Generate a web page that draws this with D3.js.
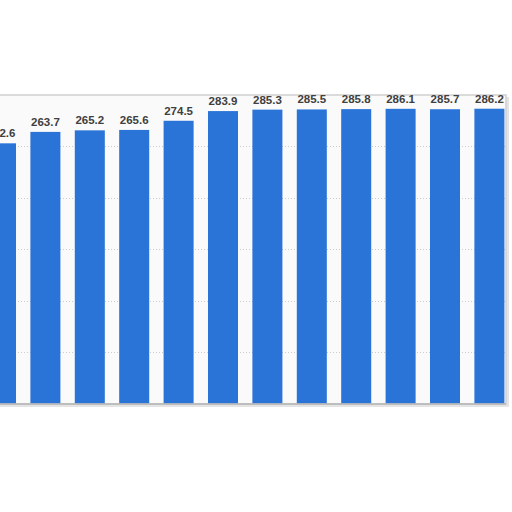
<!DOCTYPE html>
<html>
<head>
<meta charset="utf-8">
<script src="https://cdn.jsdelivr.net/npm/d3@7"></script>
<style>
  html, body { margin: 0; padding: 0; background: #fff; }
  svg { display: block; }
</style>
</head>
<body>
<svg width="512" height="512"></svg>
<script>
// categories are cut off in the picture, so they are only used as keys
const categories = ["c1", "c2", "c3", "c4", "c5", "c6", "c7", "c8", "c9", "c10", "c11", "c12"];
const values = [252.6, 263.7, 265.2, 265.6, 274.5, 283.9, 285.3, 285.5, 285.8, 286.1, 285.7, 286.2];
const gridTicks = [50, 100, 150, 200, 250];

const svg = d3.select("svg");

const x = d3.scaleBand()
  .domain(categories)
  .range([-21.2, 511.6])
  .paddingInner(0.324)
  .paddingOuter(0.162);

const y = d3.scaleLinear()
  .domain([0, 300])
  .range([403.5, 94.5]);

// shadow under the plot frame
svg.append("rect")
  .attr("x", -10).attr("y", 97)
  .attr("width", 519).attr("height", 310)
  .attr("fill", "#e4e4e4");

// plot frame
svg.append("rect")
  .attr("x", -10).attr("y", 95)
  .attr("width", 516).attr("height", 309)
  .attr("fill", "#fafafa")
  .attr("stroke", "#cfcfcf")
  .attr("stroke-width", 1.5);

// dotted gridlines
svg.append("g")
  .selectAll("line")
  .data(gridTicks)
  .enter()
  .append("line")
  .attr("x1", 0).attr("x2", 506)
  .attr("y1", d => Math.round(y(d)) + 0.5)
  .attr("y2", d => Math.round(y(d)) + 0.5)
  .attr("stroke", "#cccccc")
  .attr("stroke-dasharray", "1,2");

// bars
svg.append("g")
  .selectAll("rect")
  .data(values)
  .enter()
  .append("rect")
  .attr("x", (d, i) => x(categories[i]))
  .attr("y", d => y(d))
  .attr("width", x.bandwidth())
  .attr("height", d => y(0) - y(d))
  .attr("fill", "#2a74d8");

// value labels
svg.append("g")
  .selectAll("text")
  .data(values)
  .enter()
  .append("text")
  .attr("x", (d, i) => x(categories[i]) + x.bandwidth() / 2)
  .attr("y", d => y(d) - 6)
  .attr("text-anchor", "middle")
  .attr("font-family", "'Liberation Sans', Arial, sans-serif")
  .attr("font-weight", "bold")
  .attr("font-size", "11.5px")
  .attr("fill", "#404040")
  .text(d => d.toFixed(1));

// baseline
svg.append("line")
  .attr("x1", -10).attr("x2", 506)
  .attr("y1", 404).attr("y2", 404)
  .attr("stroke", "#b5b5b5")
  .attr("stroke-width", 1.5);
</script>
</body>
</html>
